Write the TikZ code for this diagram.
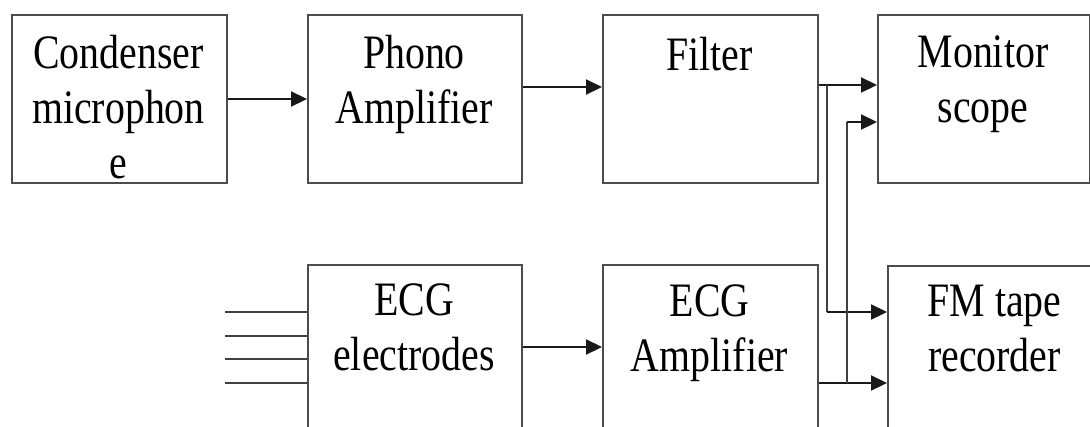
\documentclass[tikz,border=0pt]{standalone}
\usepackage{fontspec}
\setmainfont{Liberation Serif}[FakeStretch=0.83]
\usetikzlibrary{arrows.meta}
\begin{document}
\begin{tikzpicture}[x=1pt,y=-1pt,
  blk/.style={draw=black!70,line width=2.2pt,rectangle,inner sep=0pt,minimum height=168pt,anchor=north west},
  lbl/.style={anchor=north,inner sep=0pt,align=center,font=\fontsize{48}{55}\selectfont},
  conn/.style={line width=2.2pt,draw=black!90,-{Triangle[length=16pt,width=15pt]}},
  wire/.style={line width=2.2pt,draw=black!75}]
\clip (0,0) rectangle (1090,426);
\fill[white] (0,0) rectangle (1090,426);
% boxes
\node[blk,minimum width=215pt] (cond) at (11,14) {};
\node[blk,minimum width=214pt] (phono) at (307,14) {};
\node[blk,minimum width=215pt] (filter) at (602,14) {};
\node[blk,minimum width=212pt] (mon) at (877,14) {};
\node[blk,minimum width=214pt,minimum height=190pt] (elec) at (307,264) {};
\node[blk,minimum width=215pt,minimum height=190pt] (ecgamp) at (602,264) {};
\node[blk,minimum width=240pt,minimum height=190pt] (fm) at (887,265) {};
% labels
\node[lbl] (tcond) at (118.5,35) {Condenser\\microphon\\e};
\node[lbl] (tphono) at (414,35) {Phono\\Amplifier};
\node[lbl] (tfilter) at (709.5,37) {Filter};
\node[lbl] (tmon) at (983,36) {Monitor\\scope};
\node[lbl] (telec) at (414,284) {ECG\\electrodes};
\node[lbl] (tecgamp) at (709.5,285) {ECG\\Amplifier};
\node[lbl] (tfm) at (994.5,285) {FM tape\\recorder};
% branch points
\coordinate (b1) at (827,85);
\coordinate (b1d) at (827,312);
\coordinate (b2) at (847,383);
\coordinate (b2u) at (847,122);
% electrode wire ends
\coordinate (e1) at (225,312);
\coordinate (e2) at (225,336);
\coordinate (e3) at (225,359);
\coordinate (e4) at (225,383);
% connectors
\draw[conn] (cond.east |- 0,99) -- (phono.west |- 0,99);
\draw[conn] (phono.east |- 0,87) -- (filter.west |- 0,87);
\draw[conn] (filter.east |- b1) -- (mon.west |- b1);
\draw[wire] (b1) -- (b1d);
\draw[conn] (b1d) -- (fm.west |- b1d);
\draw[conn] (ecgamp.east |- b2) -- (fm.west |- b2);
\draw[wire] (b2) -- (b2u);
\draw[conn] (b2u) -- (mon.west |- b2u);
\draw[conn] (elec.east |- 0,347) -- (ecgamp.west |- 0,347);
\draw[wire] (e1) -- (elec.west |- e1);
\draw[wire] (e2) -- (elec.west |- e2);
\draw[wire] (e3) -- (elec.west |- e3);
\draw[wire] (e4) -- (elec.west |- e4);
\end{tikzpicture}
\end{document}
